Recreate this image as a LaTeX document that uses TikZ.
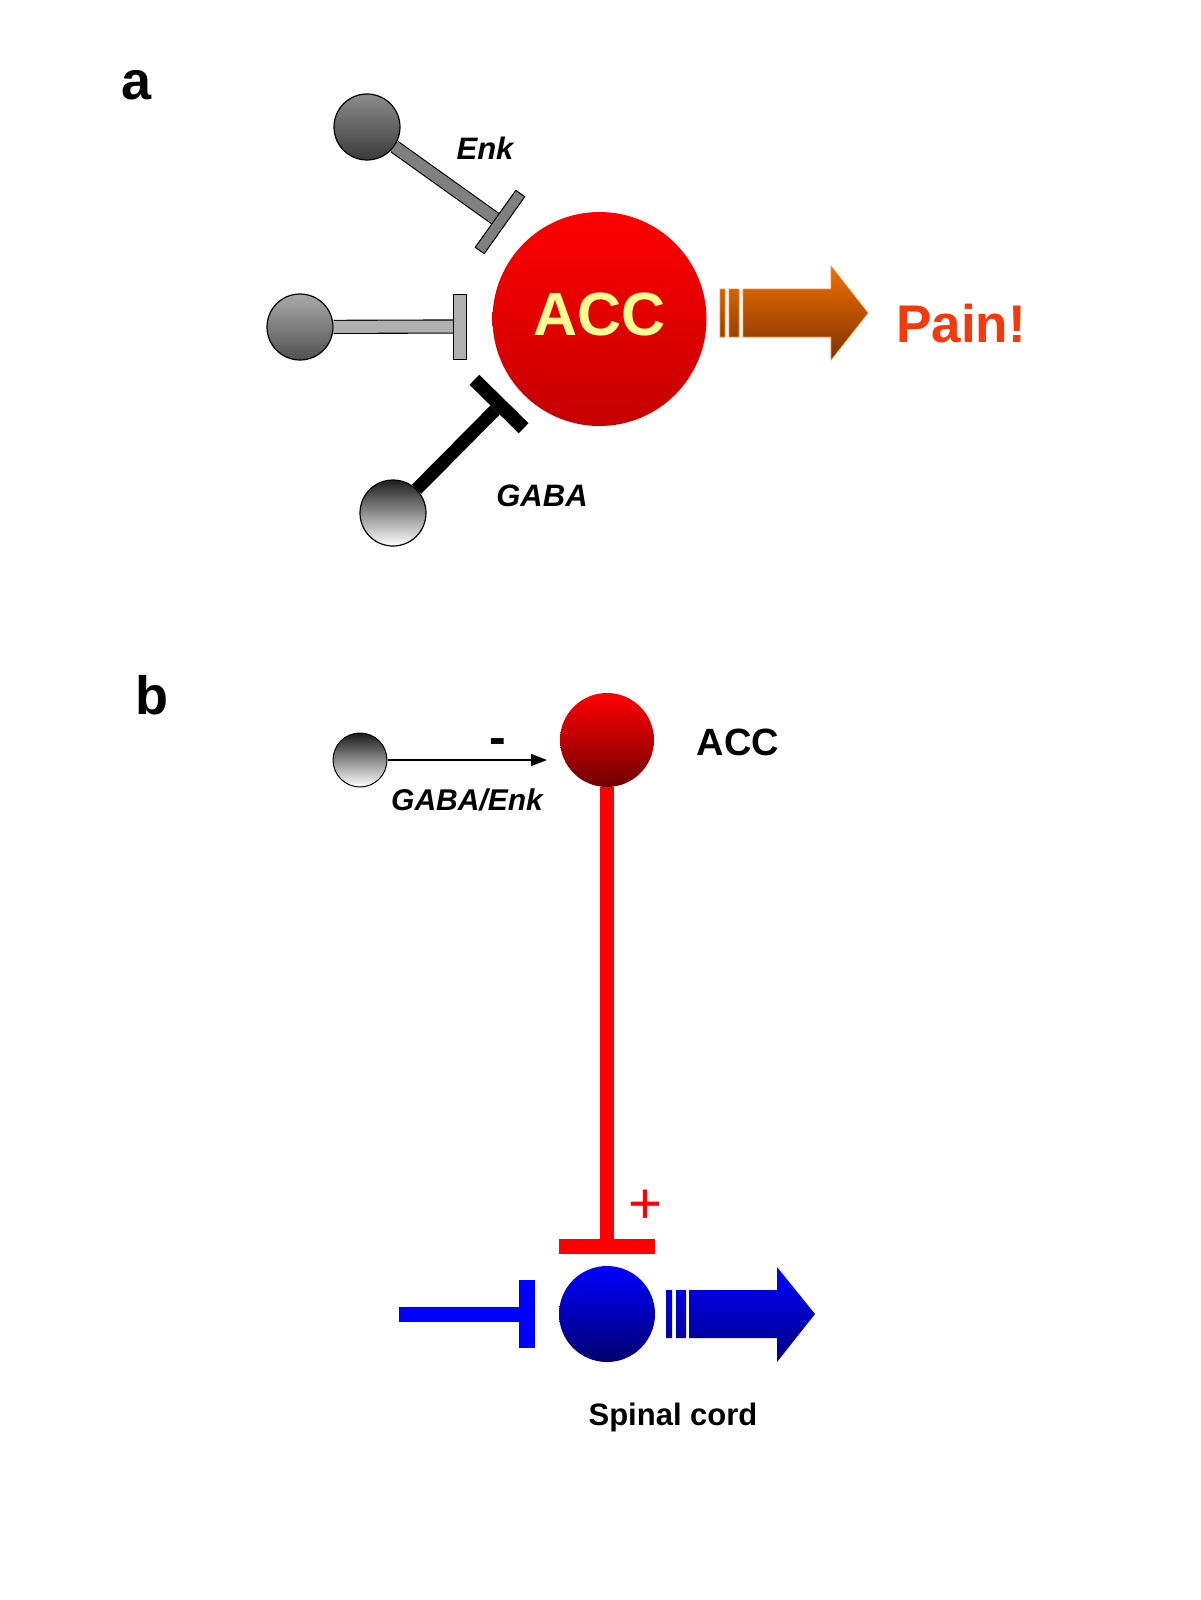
\documentclass[tikz,border=0pt]{standalone}
\usepackage{fontspec}
\setmainfont{Liberation Sans}
\usetikzlibrary{arrows.meta}
\definecolor{enkgray}{RGB}{128,128,128}
\definecolor{midgray}{RGB}{176,176,176}
\definecolor{accyellow}{RGB}{255,255,145}
\definecolor{painred}{RGB}{242,58,12}
\definecolor{arrtop}{RGB}{242,112,0}
\definecolor{arrbot}{RGB}{125,50,0}
\definecolor{accbig1}{RGB}{255,0,0}
\definecolor{accbig2}{RGB}{196,0,0}
\definecolor{accsm2}{RGB}{112,0,0}
\definecolor{bluetop}{RGB}{0,0,255}
\definecolor{bluebot}{RGB}{0,0,110}
\definecolor{bluearrbot}{RGB}{0,0,128}
\begin{document}
\begin{tikzpicture}[x=1pt,y=1pt,
  cell/.style={circle, inner sep=0pt, minimum size=66pt, draw=black, line width=1.2pt},
  lbl/.style={inner sep=0pt, anchor=base},
  panel/.style={lbl, anchor=base west, font=\fontsize{54}{60}\selectfont\bfseries},
  italbl/.style={lbl, font=\fontsize{31}{36}\selectfont\bfseries\itshape},
  outlinedbar/.style={line width=1.1pt, draw=black, double distance=11.5pt}]
\fill[white] (0,0) rectangle (1200,-1600);
\useasboundingbox (0,0) rectangle (1200,-1600);

% ---------------- panel a ----------------
\node[panel] (la) at (121,-100) {a};

\node[cell, top color={rgb,255:red,140;green,140;blue,140}, bottom color={rgb,255:red,58;green,58;blue,58}] (enkcell) at (367,-127) {};
\node[cell, top color={rgb,255:red,170;green,170;blue,170}, bottom color={rgb,255:red,80;green,80;blue,80}] (midcell) at (300,-327) {};
\node[cell, top color={rgb,255:red,30;green,30;blue,30}, bottom color=white] (gabacell) at (393,-513) {};

\coordinate (enkend) at (495.5,-218.8);
\coordinate (midend) at (453,-326.5);
\coordinate (gabaend) at (495.1,-410);

\draw[outlinedbar, double=enkgray] (enkcell) -- (enkend);
\draw[outlinedbar, double=midgray, double distance=12pt] (midcell) -- (midend);
\draw[black, line width=13pt] (gabacell) -- (gabaend);

\filldraw[fill=enkgray, draw=black, line width=1pt] (524.8,-196.7) -- (515.8,-190.3) -- (475.2,-247.3) -- (484.2,-253.7) -- cycle;
\filldraw[fill=midgray, draw=black, line width=1pt] (453,-294) rectangle (466,-359);
\fill[black] (518.7,-433.2) -- (528.5,-423.2) -- (479.3,-374.8) -- (469.5,-384.8) -- cycle;

\node[circle, inner sep=0pt, minimum size=214pt, top color=accbig1, bottom color=accbig2] (accbig) at (599.5,-319) {};
\node[lbl, text=accyellow, font=\fontsize{61}{66}\selectfont\bfseries] (acctext) at (599.5,-335) {ACC};

\node[italbl] (enklbl) at (485,-160) {Enk};
\node[italbl] (gabalbl) at (542,-506) {GABA};

\shade[top color=arrtop, bottom color=arrbot, draw={rgb,255:red,245;green,140;blue,60}, line width=0.6pt]
  (720,-289) rectangle (725,-337)
  (729,-289) rectangle (739,-337)
  (743,-289) -- (831,-289) -- (831,-266) -- (868,-313) -- (831,-360) -- (831,-337) -- (743,-337) -- cycle;
\node[lbl, text=painred, font=\fontsize{53}{60}\selectfont\bfseries] (pain) at (961,-342) {Pain!};

% ---------------- panel b ----------------
\node[panel] (lb) at (135,-714) {b};

\node[cell, minimum size=54pt, line width=1pt, top color={rgb,255:red,25;green,25;blue,25}, bottom color=white] (smcell) at (360,-760) {};
\coordinate (arrtip) at (547,-760);
\draw[line width=1.5pt, -{Triangle[length=16pt,width=12pt]}] (smcell) -- (arrtip);
\node[lbl, font=\fontsize{50}{56}\selectfont\bfseries] (minus) at (498,-754) {-};
\node[lbl, font=\fontsize{30}{36}\selectfont\bfseries\itshape] (gelbl) at (467,-810) {GABA/Enk};

\node[circle, inner sep=0pt, minimum size=94pt, top color=accbig1, bottom color=accsm2] (accsm) at (607,-740) {};
\node[lbl, font=\fontsize{38}{44}\selectfont\bfseries] (acclbl) at (738,-755) {ACC};

\coordinate (redend) at (607,-1240);
\draw[red, line width=14pt] (accsm.south) -- (redend);
\fill[red] (559,-1239) rectangle (655,-1254);
\node[lbl, text=red, font=\fontsize{58}{64}\selectfont] (plus) at (645,-1223) {+};

\node[circle, inner sep=0pt, minimum size=96pt, top color=bluetop, bottom color=bluebot] (spcell) at (607,-1314) {};

\coordinate (bluestart) at (399,-1314.5);
\coordinate (blueend) at (520,-1314.5);
\draw[blue, line width=15pt] (bluestart) -- (blueend);
\fill[blue] (519,-1280) rectangle (535,-1348);

\shade[top color=bluetop, bottom color=bluearrbot]
  (666,-1290) rectangle (672,-1338)
  (676,-1290) rectangle (686,-1338)
  (689,-1290) -- (777,-1290) -- (777,-1267) -- (815,-1314) -- (777,-1362) -- (777,-1338) -- (689,-1338) -- cycle;

\node[lbl, font=\fontsize{31}{36}\selectfont\bfseries] (splbl) at (673,-1425) {Spinal cord};
\end{tikzpicture}
\end{document}
